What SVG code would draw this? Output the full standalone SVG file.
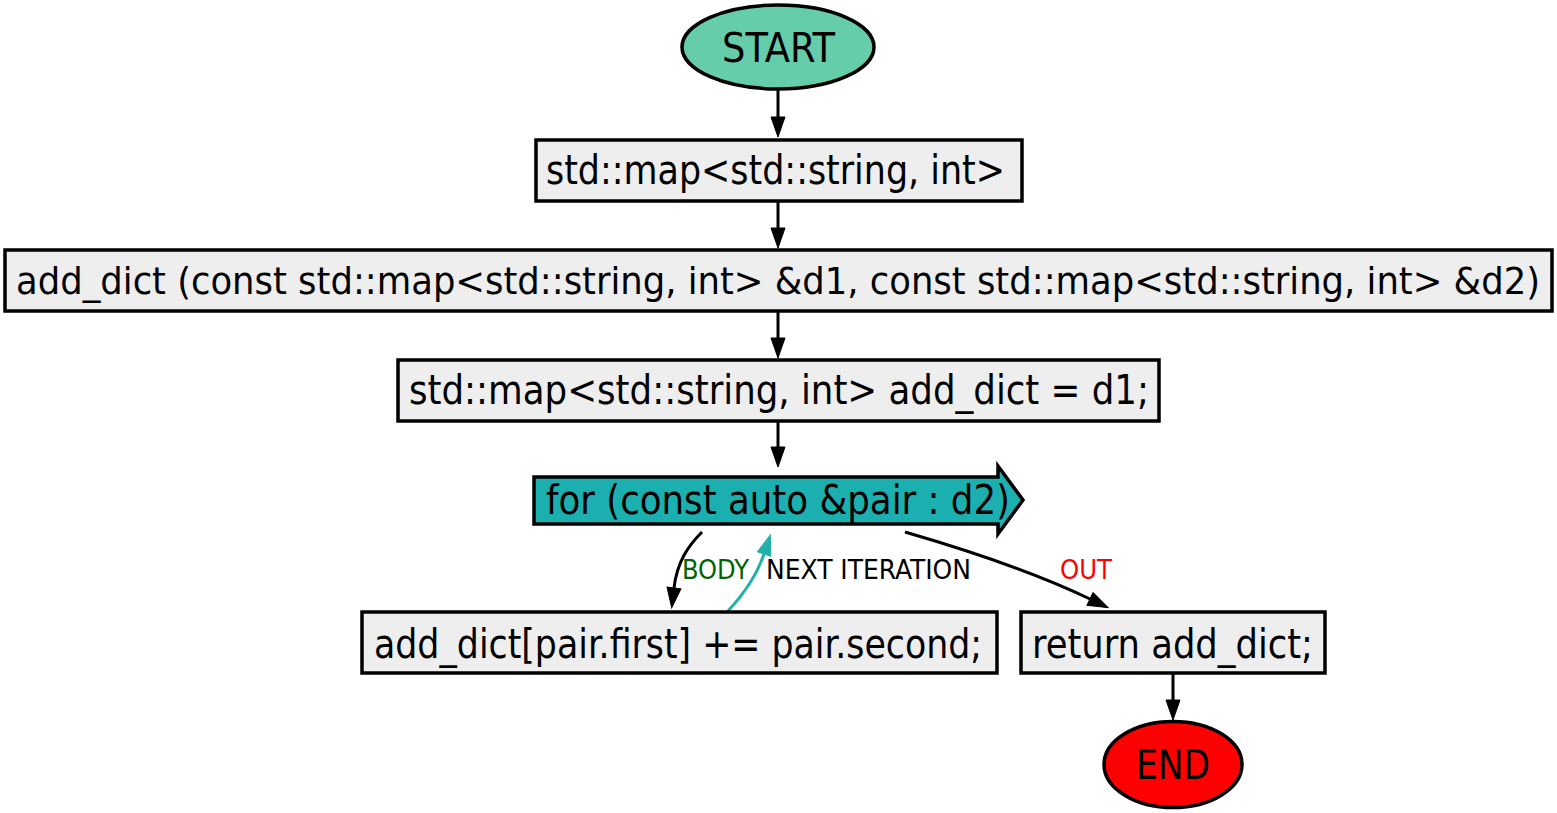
<svg xmlns="http://www.w3.org/2000/svg" width="1557" height="813" viewBox="0 0 1557 813">
<style>
.bx{fill:#eeeeee;stroke:#000;stroke-width:3.5}
.t{font-family:"DejaVu Sans Condensed","DejaVu Sans",sans-serif;font-size:40px;fill:#000}
.lb{font-family:"DejaVu Sans Condensed","DejaVu Sans",sans-serif;font-size:26px}
.e{fill:none;stroke:#000;stroke-width:3}
.et{fill:none;stroke:#20b2aa;stroke-width:3}
</style>
<defs>
<marker id="ah" markerUnits="userSpaceOnUse" markerWidth="22" markerHeight="16" refX="0" refY="7" orient="auto" overflow="visible">
<path d="M0,0 L20,7 L0,14 z" fill="#000" stroke="#000" stroke-width="1"/>
</marker>
<marker id="aht" markerUnits="userSpaceOnUse" markerWidth="22" markerHeight="16" refX="0" refY="7" orient="auto" overflow="visible">
<path d="M0,0 L20,7 L0,14 z" fill="#20b2aa" stroke="#20b2aa" stroke-width="1"/>
</marker>
</defs>
<g id="connectors">
<path class="e" d="M778,89 L778,117" marker-end="url(#ah)"/>
<path class="e" d="M778,201 L778,228" marker-end="url(#ah)"/>
<path class="e" d="M778,311 L778,338" marker-end="url(#ah)"/>
<path class="e" d="M778,421 L778,447" marker-end="url(#ah)"/>
<path class="e" d="M1173,673 L1173,700" marker-end="url(#ah)"/>
<path class="e" d="M702,532 C688,546 677,562 674,588" marker-end="url(#ah)"/>
<path class="et" d="M728,611 C742,596 756,578 764,554" marker-end="url(#aht)"/>
<path class="e" d="M905,532 C960,548 1030,570 1090,599" marker-end="url(#ah)"/>
<text class="lb" x="682" y="579" fill="#006400" textLength="67" lengthAdjust="spacingAndGlyphs">BODY</text>
<text class="lb" x="766" y="579" fill="#000" textLength="205" lengthAdjust="spacingAndGlyphs">NEXT ITERATION</text>
<text class="lb" x="1060" y="579" fill="#ff0000" textLength="52" lengthAdjust="spacingAndGlyphs">OUT</text>
</g>
<g id="start">
<ellipse cx="778" cy="47" rx="96" ry="42" fill="#66cdaa" stroke="#000" stroke-width="3.5"/>
<text class="t" x="722" y="62" textLength="113" lengthAdjust="spacingAndGlyphs">START</text>
</g>
<g id="n1">
<rect class="bx" x="536" y="140" width="486" height="61"/>
<text class="t" x="546" y="184" textLength="459" lengthAdjust="spacingAndGlyphs">std::map&lt;std::string, int&gt;</text>
</g>
<g id="n2">
<rect class="bx" x="5" y="250" width="1547" height="61"/>
<text class="t" x="16" y="294" style="font-size:38px" textLength="1524" lengthAdjust="spacingAndGlyphs">add_dict (const std::map&lt;std::string, int&gt; &amp;d1, const std::map&lt;std::string, int&gt; &amp;d2)</text>
</g>
<g id="n3">
<rect class="bx" x="398" y="360" width="761" height="61"/>
<text class="t" x="409" y="404" textLength="740" lengthAdjust="spacingAndGlyphs">std::map&lt;std::string, int&gt; add_dict = d1;</text>
</g>
<g id="loop">
<polygon points="534,477 998,477 998,466 1023,500 998,534 998,524 534,524" fill="#1cafaf" stroke="#000" stroke-width="3.5" stroke-linejoin="miter"/>
<text class="t" x="546" y="514" textLength="464" lengthAdjust="spacingAndGlyphs">for (const auto &amp;pair : d2)</text>
</g>
<g id="body">
<rect class="bx" x="362" y="612" width="635" height="61"/>
<text class="t" x="374" y="658" textLength="608" lengthAdjust="spacingAndGlyphs">add_dict[pair.first] += pair.second;</text>
</g>
<g id="ret">
<rect class="bx" x="1021" y="612" width="304" height="61"/>
<text class="t" x="1032" y="658" textLength="281" lengthAdjust="spacingAndGlyphs">return add_dict;</text>
</g>
<g id="end">
<ellipse cx="1173" cy="764.5" rx="69" ry="43" fill="#ff0000" stroke="#000" stroke-width="3.5"/>
<text class="t" x="1136" y="779" textLength="74" lengthAdjust="spacingAndGlyphs">END</text>
</g>
</svg>
